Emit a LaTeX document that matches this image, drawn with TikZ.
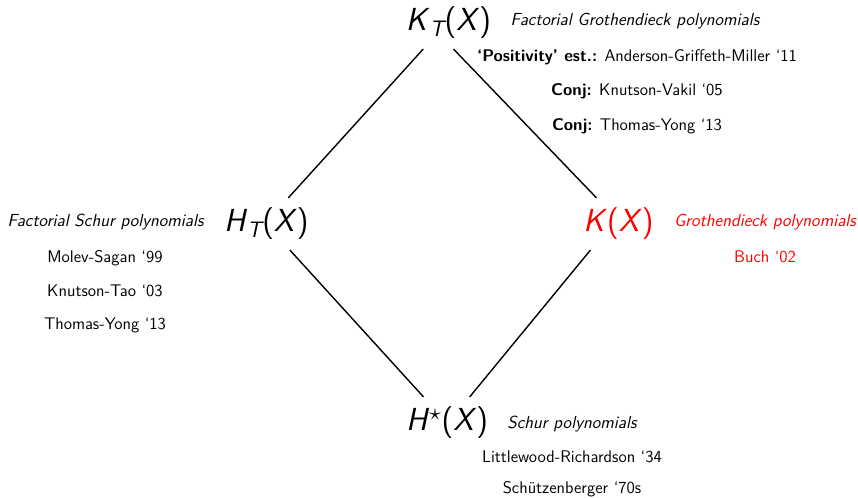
\documentclass[tikz,border=0pt]{standalone}
\usepackage{tikz}
\usetikzlibrary{positioning}
\newcommand{\mv}[1]{\textit{#1}}

\begin{document}
\begin{tikzpicture}[
  font=\sffamily,
  ring/.style={
    font=\sffamily\fontsize{22.7}{27}\selectfont,
    inner xsep=3pt, inner ysep=7pt
  },
  poly/.style={
    font=\sffamily\fontsize{12.4}{15}\selectfont\itshape,
    text height=0.8em, text depth=0.2em, inner sep=0pt
  },
  cite/.style={
    font=\sffamily\large,
    text height=0.8em, text depth=0.2em, inner sep=0pt
  },
  link/.style={line width=1pt, color=black}
]
\useasboundingbox (0,0) rectangle (21.45,12.45);

\node[ring] (kt) at (11.21,11.875) {\mv{K}\textsubscript{\itshape T}(\mv{X})};
\node[ring] (ht) at (6.66,6.85) {\mv{H}\textsubscript{\itshape T}(\mv{X})};
\node[ring, red] (kk) at (15.46,6.85) {\mv{K}(\mv{X})};
\node[ring] (hs) at (11.175,1.875) {\mv{H}\textsuperscript{$\star$}(\mv{X})};

\node[poly] (ktlab) at (15.875,11.925) {Factorial Grothendieck polynomials};
\node[cite] (kt1) at (15.925,11.025) {\textbf{`Positivity' est.:} Anderson-Griffeth-Miller `11};
\node[cite] (kt2) at (15.925,10.175) {\textbf{Conj:} Knutson-Vakil `05};
\node[cite] (kt3) at (15.925,9.3) {\textbf{Conj:} Thomas-Yong `13};

\node[poly] (htlab) at (2.64,6.9) {Factorial Schur polynomials};
\node[cite] (ht1) at (2.625,6.0) {Molev-Sagan `99};
\node[cite] (ht2) at (2.625,5.15) {Knutson-Tao `03};
\node[cite] (ht3) at (2.625,4.325) {Thomas-Yong `13};

\node[poly, red] (kklab) at (19.125,6.9) {Grothendieck polynomials};
\node[cite, red] (kk1) at (19.125,6.0) {Buch `02};

\node[poly] (hslab) at (14.3,1.85) {Schur polynomials};
\node[cite] (hs1) at (14.3,1.0) {Littlewood-Richardson `34};
\node[cite] (hs2) at (14.3,0.225) {Sch\"utzenberger `70s};

\draw[link] (kt.226) -- (ht.50);
\draw[link] (kt.281) -- (kk.130);
\draw[link] (ht.312) -- (hs.132);
\draw[link] (kk.223) -- (hs.49);
\end{tikzpicture}
\end{document}
